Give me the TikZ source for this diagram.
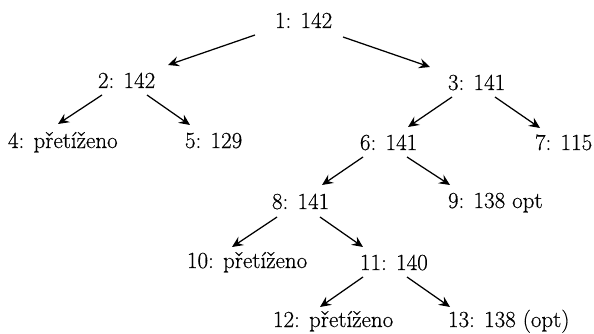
\documentclass[tikz,border=0pt]{standalone}
\usepackage{fontspec}
\newfontfamily\heavyrm{Latin Modern Roman}[FakeBold=0.5]
\usetikzlibrary{arrows.meta}
\begin{document}
\begin{tikzpicture}[x=1pt,y=-1pt,
  lbl/.style={anchor=base west,inner sep=0pt,outer sep=0pt,font=\heavyrm\fontsize{23}{27}\selectfont},
  arr/.style={line width=1.25pt,-{Stealth[length=11pt,width=10pt,inset=4pt]}}]
\useasboundingbox (0,0) rectangle (594,334);
\node[lbl] (n1) at (275,28) {1: 142};
\node[lbl] (n2) at (98,88) {2: 142};
\node[lbl] (n3) at (448,90) {3: 141};
\node[lbl] (n4) at (8,148) {4: přetíženo};
\node[lbl] (n5) at (185,148) {5: 129};
\node[lbl] (n6) at (360,150) {6: 141};
\node[lbl] (n7) at (535,150) {7: 115};
\node[lbl] (n8) at (272,209) {8: 141};
\node[lbl] (n9) at (448,208) {9: 138 opt};
\node[lbl] (n10) at (187,268) {10: přetíženo};
\node[lbl] (n11) at (360,270) {11: 140};
\node[lbl] (n12) at (273,327) {12: přetíženo};
\node[lbl] (n13) at (448,327) {13: 138 (opt)};
% edges: offsets relative to base west of each node
\draw[arr] ([shift={(-20,7)}]n1.base west) -- ([shift={(70,-23)}]n2.base west);
\draw[arr] ([shift={(68,9)}]n1.base west) -- ([shift={(-18,-23)}]n3.base west);
\draw[arr] ([shift={(4,7)}]n2.base west) -- ([shift={(50,-24)}]n4.base west);
\draw[arr] ([shift={(49,7)}]n2.base west) -- ([shift={(5,-23)}]n5.base west);
\draw[arr] ([shift={(4,7)}]n3.base west) -- ([shift={(48,-23)}]n6.base west);
\draw[arr] ([shift={(47,7)}]n3.base west) -- ([shift={(5,-22)}]n7.base west);
\draw[arr] ([shift={(3,7)}]n6.base west) -- ([shift={(50,-24)}]n8.base west);
\draw[arr] ([shift={(47,7)}]n6.base west) -- ([shift={(2,-23)}]n9.base west);
\draw[arr] ([shift={(5,8)}]n8.base west) -- ([shift={(45,-21)}]n10.base west);
\draw[arr] ([shift={(48,8)}]n8.base west) -- ([shift={(3,-23)}]n11.base west);
\draw[arr] ([shift={(3,7)}]n11.base west) -- ([shift={(47,-20)}]n12.base west);
\draw[arr] ([shift={(47,7)}]n11.base west) -- ([shift={(2,-20)}]n13.base west);
\end{tikzpicture}
\end{document}
